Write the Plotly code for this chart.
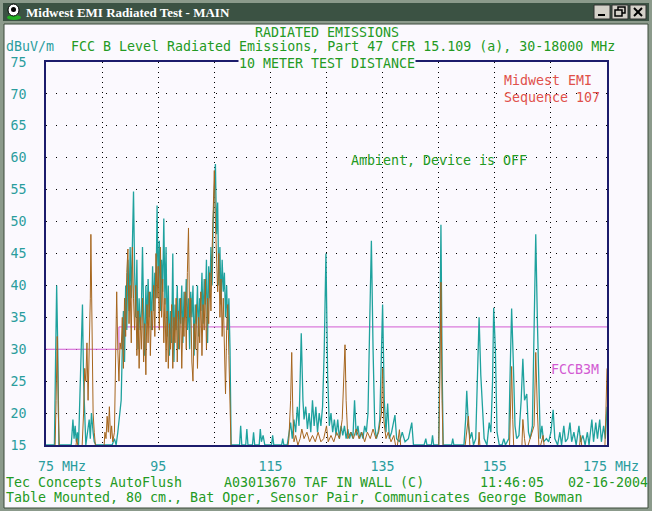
import plotly.graph_objects as go

# spectrum readings, MHz / dBuV/m
teal_low_mhz = [75.0, 76.5, 76.7, 76.9, 77.1, 77.3, 79.5, 79.8, 80.0, 80.2,
                80.4, 80.6, 80.8, 81.0, 81.2, 81.5, 81.7, 81.9, 82.1, 82.4,
                82.7, 82.9, 83.1, 83.4, 83.6, 83.9, 86.8, 87.2, 87.5, 87.8,
                88.0, 88.2]
teal_low_dbuv = [15, 15, 28, 40, 30, 15, 15, 19, 16, 18,
                 15.5, 17, 15, 22, 28, 37, 25, 20, 15, 17,
                 19, 16, 20, 17, 15.5, 15, 15, 16, 15, 17,
                 19, 21]

brown_low_mhz = [75.0, 76.6, 76.8, 77.0, 77.2, 77.4, 80.2, 80.5, 80.8, 81.4,
                 81.7, 81.9, 82.1, 82.3, 82.5, 82.7, 82.9, 83.0, 83.2, 83.4,
                 83.6, 83.9, 85.3, 85.5, 85.7, 85.9, 86.1, 86.3, 86.5, 86.7,
                 86.9, 87.2, 87.4, 87.6, 87.8, 88.0, 88.2]
brown_low_dbuv = [14, 14, 22, 32, 20, 14, 14, 16, 14, 14,
                  20, 27, 25, 31, 22, 28, 38, 48, 30, 20,
                  17, 14, 14, 17, 16, 19.5, 17, 21, 16, 18,
                  15.5, 17, 28, 39, 30, 25, 31]

# the busy FM band, both sweeps share these points
band_mhz = [88.4, 88.6, 88.8, 89.0, 89.2, 89.4, 89.6, 89.8, 90.0, 90.2,
            90.4, 90.6, 90.8, 91.0, 91.2, 91.4, 91.6, 91.8, 92.0, 92.2,
            92.4, 92.6, 92.8, 93.0, 93.2, 93.4, 93.6, 93.8, 94.0, 94.2,
            94.4, 94.6, 94.8, 95.0, 95.2, 95.4, 95.6, 95.8, 96.0, 96.2,
            96.4, 96.6, 96.8, 97.0, 97.2, 97.4, 97.6, 97.8, 98.0, 98.2,
            98.4, 98.6, 98.8, 99.0, 99.2, 99.4, 99.6, 99.8, 100.0, 100.2,
            100.4, 100.6, 100.8, 101.0, 101.2, 101.4, 101.6, 101.8, 102.0, 102.2,
            102.4, 102.6, 102.8, 103.0, 103.2, 103.4, 103.6, 103.8, 104.0, 104.2,
            104.4, 104.6, 104.8, 105.0, 105.2, 105.4, 105.6, 105.8, 106.0, 106.2,
            106.4, 106.6, 106.8, 107.0, 107.2, 107.4, 107.6, 107.8, 108.0]
teal_band_dbuv = [22, 30, 36, 28, 40, 33, 44, 36, 46, 38,
                  48, 54.7, 42, 35, 44, 30, 38, 33, 36, 46,
                  36, 29, 40, 34, 41, 35, 39, 33, 43, 36,
                  42, 38, 52.5, 40, 47, 36, 44, 39, 50.5, 37,
                  46, 32, 40, 29, 36, 31, 45, 28, 37, 33,
                  40, 30, 38, 34, 40, 31, 39, 35, 41, 33,
                  38, 30, 39, 35, 40, 29, 37, 34, 40, 32,
                  38, 36, 42, 34, 41, 37, 44, 31, 43, 38,
                  46, 40, 50, 56, 59, 48, 53, 40, 46, 37,
                  44, 39, 42, 35, 40, 33, 38, 30, 15]
brown_band_dbuv = [30, 35, 27, 38, 32, 42, 45.7, 34, 40, 31,
                   46, 38, 33, 40, 29, 36, 27, 35, 30, 38,
                   28, 34, 26, 37, 31, 39, 29, 36, 33, 40,
                   32, 45, 38, 43, 33, 46, 35, 41, 31, 38,
                   28, 36, 27, 34, 30, 37, 27, 35, 31, 38,
                   28, 36, 30, 38, 27, 35, 32, 39, 30, 42,
                   49, 35, 38, 28, 25, 34, 30, 37, 27, 35,
                   31, 39, 29, 37, 33, 41, 30, 38, 34, 42,
                   36, 45, 52, 58, 50, 44, 39, 45, 35, 41,
                   32, 38, 28, 23, 33, 37, 29, 20, 14]

teal_high_mhz = [109.5, 109.7, 109.9, 110.6, 110.8, 111.0, 111.8, 112.0, 112.2, 113.0,
                 113.2, 113.4, 113.7, 114.0, 115.2, 115.4, 115.6, 117.0, 117.2, 117.4,
                 118.0, 118.3, 118.6, 118.9, 119.2, 119.5, 119.8, 120.1, 120.5, 120.8,
                 121.0, 121.3, 121.6, 121.9, 122.2, 122.5, 122.8, 123.1, 123.4, 123.7,
                 124.0, 124.3, 124.6, 124.9, 125.2, 125.5, 125.8, 126.1, 126.4, 126.7,
                 127.0, 127.3, 127.6, 127.9, 128.2, 128.5, 128.8, 129.1, 129.4, 129.7,
                 130.0, 130.3, 130.6, 130.9, 131.2, 131.5, 131.8, 132.1, 132.4, 132.7,
                 133.0, 133.3, 133.6, 133.9, 134.2, 134.5, 134.8, 135.0, 135.3, 135.6,
                 135.9, 136.2, 136.6, 137.2, 137.5, 138.0, 138.5, 139.0, 139.6, 140.2,
                 140.5, 142.4, 142.7, 142.9, 143.7, 143.9, 144.1, 145.0, 145.2, 145.4,
                 145.6, 145.8, 147.3, 147.5, 147.7, 149.5, 149.8, 150.0, 150.3, 150.6,
                 150.9, 151.2, 151.6, 152.0, 152.2, 152.5, 152.8, 153.1, 153.6, 154.0,
                 154.3, 154.6, 154.8, 155.1, 155.4, 155.8, 156.3, 156.6, 156.9, 157.5,
                 157.7, 158.0, 158.3, 158.6, 158.9, 159.3, 159.7, 160.0, 160.3, 160.7,
                 161.0, 161.3, 161.7, 162.0, 162.3, 162.6, 162.9, 163.1, 163.4, 163.7,
                 164.2, 164.6, 165.0, 165.4, 165.7, 166.2, 166.6, 166.9, 167.3, 167.6,
                 168.0, 168.4, 168.7, 169.1, 169.5, 170.0, 170.3, 170.7, 171.1, 171.5,
                 171.8, 172.3, 172.6, 173.0, 173.3, 173.7, 174.0, 174.4, 174.7, 175.0]
teal_high_dbuv = [15, 18, 15, 15, 17.5, 15, 15, 17, 15, 15,
                  17.5, 15.5, 16.5, 15, 15, 16.5, 15, 15, 16, 15,
                  15, 17, 18.5, 16, 19, 17, 21, 18, 32.5, 22,
                  19, 21, 17.5, 20, 17, 22, 18, 21, 17, 20,
                  18, 21, 30, 45, 26, 18, 20, 17, 19, 16.5,
                  19, 16, 18, 16.5, 18, 16, 17.5, 16, 17, 16,
                  22, 16.5, 18, 16, 17, 16, 18, 17, 20, 34,
                  47, 30, 18, 16, 17, 19, 28, 37, 22, 17,
                  21.5, 16, 17, 19.7, 16, 15.5, 17, 15.5, 16, 18.5,
                  15, 15, 16, 15, 15, 16.5, 15, 15, 30, 49.5,
                  28, 15, 15, 16, 15, 15, 19, 23.5, 18, 16,
                  17, 15, 16, 28, 35, 26, 20, 16, 15, 18.5,
                  17, 25, 36.5, 30, 17, 15, 15, 16, 15, 16,
                  25, 36.4, 28, 18, 16, 16.5, 22, 28.5, 22, 23,
                  17, 16, 18, 32, 48, 34, 20, 16, 18, 15.5,
                  16, 15.5, 17, 20.5, 16, 15, 17, 15, 18, 15.5,
                  16, 18.5, 15.5, 17, 15, 18, 15.5, 16.5, 15, 17,
                  15, 19, 15.5, 18.5, 16, 19, 15.5, 18, 16, 21]

brown_high_mhz = [118.0, 118.3, 118.6, 118.8, 119.0, 119.2, 119.5, 119.9, 120.3, 120.6,
                  121.0, 121.5, 122.0, 122.5, 123.0, 123.5, 124.0, 124.5, 125.0, 125.3,
                  125.8, 126.3, 126.8, 127.3, 127.8, 128.1, 128.3, 128.5, 128.8, 129.3,
                  129.8, 130.3, 130.8, 131.3, 131.8, 132.3, 132.8, 133.3, 133.8, 134.3,
                  134.8, 135.0, 135.2, 135.6, 136.0, 136.5, 137.0, 137.5, 138.0, 138.3,
                  145.0, 145.2, 145.4, 145.6, 145.8, 149.6, 150.0, 150.3, 150.6, 152.0,
                  152.2, 152.4, 157.6, 157.8, 158.0, 158.2, 158.4, 159.8, 160.0, 160.3,
                  160.6, 162.0, 162.3, 162.6, 162.9, 163.6, 163.9, 170.0, 170.3, 170.6,
                  174.6, 174.8, 175.0]
brown_high_dbuv = [14, 16, 22, 29.5, 20, 15.5, 16.5, 15, 16, 17.5,
                   16, 17, 15.5, 16.5, 15.5, 17, 15.5, 16, 18, 15.5,
                   16.5, 15.5, 17, 16, 19, 25, 30.7, 22, 16, 17,
                   16, 17.5, 16, 17, 15.5, 17, 16, 17.5, 16, 17,
                   20, 27, 19, 16, 17, 15.5, 16.5, 14, 17.4, 14,
                   14, 25, 40.5, 22, 14, 14, 17, 19.5, 14, 14,
                   17, 14, 14, 20, 27.3, 19, 14, 14, 19, 16,
                   14, 18, 29.5, 20, 14, 16.5, 14, 14, 16.5, 14,
                   14, 20, 27]

# FCC class B limit, scaled to 10 m
limit_mhz = [75, 88, 175]
limit_dbuv = [30, 33.5, 33.5]

y_ticks = [15, 20, 25, 30, 35, 40, 45, 50, 55, 60, 65, 70, 75]
x_ticks = [75, 95, 115, 135, 155, 175]
NB = "\u00a0"
x_ticktext = [NB * 4 + "75 MHz", "95", "115", "135", "155", NB + "175 MHz"]

GREEN = "#239A23"
TEAL_TXT = "#2A9D9D"
TEAL = "#1FA29E"
BROWN = "#A6661E"
MAGENTA = "#D25AD2"
CLIENT = "#FBF9FE"
MONO = "DejaVu Sans Mono"
FS = 13.3

# plot area sits at pixels x 46..607, y 62..445 of the 652x511 window
def fx(px):
    return (px - 46) / 561.0

def fy(py):
    return (445 - py) / 383.0

fig = go.Figure()

fig.add_trace(go.Scatter(x=limit_mhz, y=limit_dbuv, mode="lines", line_shape="hv",
                         line=dict(color=MAGENTA, width=1)))
fig.add_trace(go.Scatter(x=teal_low_mhz + band_mhz + teal_high_mhz,
                         y=teal_low_dbuv + teal_band_dbuv + teal_high_dbuv,
                         mode="lines", line=dict(color=TEAL, width=1.3)))
fig.add_trace(go.Scatter(x=brown_low_mhz + band_mhz + brown_high_mhz,
                         y=brown_low_dbuv + brown_band_dbuv + brown_high_dbuv,
                         mode="lines", line=dict(color=BROWN, width=1.0)))

## window chrome: frame, title bar, buttons
shapes = [
    dict(type="rect", x0=fx(3), x1=fx(649), y0=fy(3), y1=fy(21),
         fillcolor="#3B5243", line_width=0),
    dict(type="rect", x0=fx(4), x1=fx(648), y0=fy(24), y1=fy(508),
         fillcolor=CLIENT, line=dict(color="#3A4A3A", width=1)),
    dict(type="circle", x0=fx(7), x1=fx(21), y0=fy(15), y1=fy(20),
         fillcolor="#22B022", line_width=0),
    dict(type="circle", x0=fx(8), x1=fx(19), y0=fy(4), y1=fy(16),
         fillcolor="white", line=dict(color="black", width=1)),
    dict(type="circle", x0=fx(11), x1=fx(16), y0=fy(7), y1=fy(12),
         fillcolor="black", line_width=0),
]
for bx in [594, 612, 630]:
    shapes.append(dict(type="rect", x0=fx(bx), x1=fx(bx + 16), y0=fy(5), y1=fy(19),
                       fillcolor="#D4D0C8", line=dict(color="#303030", width=1)))
shapes += [
    dict(type="rect", x0=fx(598), x1=fx(605), y0=fy(14), y1=fy(16),
         fillcolor="black", line_width=0),
    dict(type="rect", x0=fx(618), x1=fx(625), y0=fy(7), y1=fy(13),
         fillcolor="#D4D0C8", line=dict(color="black", width=1.5)),
    dict(type="rect", x0=fx(615), x1=fx(622), y0=fy(10), y1=fy(16),
         fillcolor="#D4D0C8", line=dict(color="black", width=1.5)),
    dict(type="line", x0=fx(634), x1=fx(642), y0=fy(8), y1=fy(16),
         line=dict(color="black", width=2)),
    dict(type="line", x0=fx(642), x1=fx(634), y0=fy(8), y1=fy(16),
         line=dict(color="black", width=2)),
]
for s in shapes:
    s.update(xref="paper", yref="paper", layer="below")

def label(text, x, y, color=GREEN, anchor="left", bg=None):
    fig.add_annotation(text=text, x=fx(x), y=fy(y), xref="paper", yref="paper",
                       xanchor=anchor, yanchor="middle", showarrow=False,
                       font=dict(family=MONO, size=FS, color=color),
                       bgcolor=bg, borderpad=0)

fig.add_annotation(text="<b>Midwest EMI Radiated Test - MAIN</b>", x=fx(24), y=fy(12),
                   xref="paper", yref="paper", xanchor="left", yanchor="middle",
                   showarrow=False, font=dict(family="Liberation Serif", size=13, color="white"))

label("RADIATED EMISSIONS", 327, 32, anchor="center")
label("dBuV/m", 5, 47, color=TEAL_TXT)
label("FCC B Level Radiated Emissions, Part 47 CFR 15.109 (a), 30-18000 MHz", 70, 47)
label("10 METER TEST DISTANCE", 327, 63, anchor="center", bg=CLIENT)
label("Midwest EMI", 503, 80, color="#E0504A")
label("Sequence 107", 503, 97, color="#E0504A")
label("Ambient, Device is OFF", 350, 160)
label("FCCB3M", 550, 369, color=MAGENTA)
label("Tec Concepts AutoFlush", 5, 482)
label("A03013670 TAF IN WALL (C)", 223, 482)
label("11:46:05", 479, 482)
label("02-16-2004", 567, 482)
label("Table Mounted, 80 cm., Bat Oper, Sensor Pair, Communicates George Bowman", 5, 498)

fig.update_xaxes(range=[75, 175], tickvals=x_ticks, ticktext=x_ticktext, ticks="",
                 ticklabelstandoff=8, tickfont=dict(family=MONO, size=FS, color=TEAL_TXT),
                 showgrid=True, gridcolor="black", gridwidth=1, griddash="1px,4px",
                 minor=dict(tick0=75, dtick=10, showgrid=True, gridcolor="black",
                            gridwidth=1, griddash="1px,4px"),
                 showline=True, mirror=True, linecolor="#1C1C6C", linewidth=1.5,
                 zeroline=False, layer="below traces", fixedrange=True)
fig.update_yaxes(range=[15, 75], tickvals=y_ticks, ticks="", ticklabelstandoff=15,
                 tickfont=dict(family=MONO, size=FS, color=TEAL_TXT),
                 showgrid=True, gridcolor="black", gridwidth=1, griddash="1px,9px",
                 showline=True, mirror=True, linecolor="#1C1C6C", linewidth=1.5,
                 zeroline=False, layer="below traces", fixedrange=True)

fig.update_layout(width=652, height=511, autosize=False,
                  margin=dict(l=46, r=45, t=62, b=66, pad=0, autoexpand=False),
                  paper_bgcolor="#8B9A8B", plot_bgcolor=CLIENT,
                  showlegend=False, shapes=shapes)

# the page's default body margin would push the window off by 8 px
fig.write_html("out.html", config={"displayModeBar": False},
               post_script="document.body.style.margin='0';")
